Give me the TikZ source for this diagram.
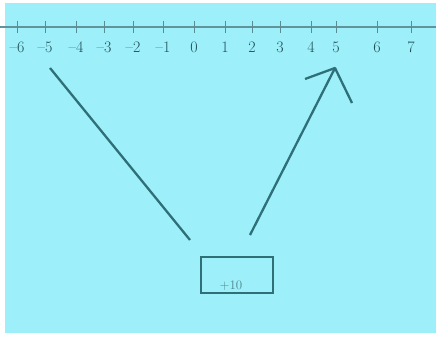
\documentclass[tikz,border=0pt]{standalone}
\begin{document}
\begin{tikzpicture}[x=1pt,y=-1pt,
  ink/.style={draw=linec, line width=2.3pt},
  tick/.style={draw=linec!80, line width=0.9pt},
  lab/.style={text=labc, font=\fontsize{16}{16}\selectfont, inner sep=0pt}]
\definecolor{bg}{HTML}{9DF0FA}
\definecolor{linec}{HTML}{2F6F78}
\definecolor{labc}{HTML}{1F4F58}
\useasboundingbox (0,0) rectangle (436,339);
\fill[white] (0,0) rectangle (436,339);
\fill[bg] (5,3) rectangle (436,333);
% number line
\draw[draw=linec!75, line width=1.2pt] (0,27) -- (436,27);
\foreach \v/\x in {--6/17,--5/45,--4/76,--3/104,--2/133,--1/163,0/194,1/225,2/252,3/280,4/311,5/336,6/377,7/411}{
  \draw[tick] (\x,21) -- (\x,33);
  \node[lab] at (\x,47) {\v};
}
% box
\node[draw=linec, line width=1.8pt, minimum width=72pt, minimum height=36pt, inner sep=0pt] (box) at (237,275) {};
\node[text=linec!85, font=\fontsize{13}{13}\selectfont, inner sep=0pt] (t) at (231,286) {+10};
% connectors
\coordinate (a1) at (50,68);
\coordinate (a2) at (190,240);
\draw[ink] (a1) -- (a2);
\coordinate (b1) at (250,235);
\coordinate (tip) at (335,68);
\coordinate (h1) at (305,79);
\coordinate (h2) at (352,103);
\draw[ink] (b1) -- (tip);
\draw[ink, line join=round] (h1) -- (tip) -- (h2);
\end{tikzpicture}
\end{document}
